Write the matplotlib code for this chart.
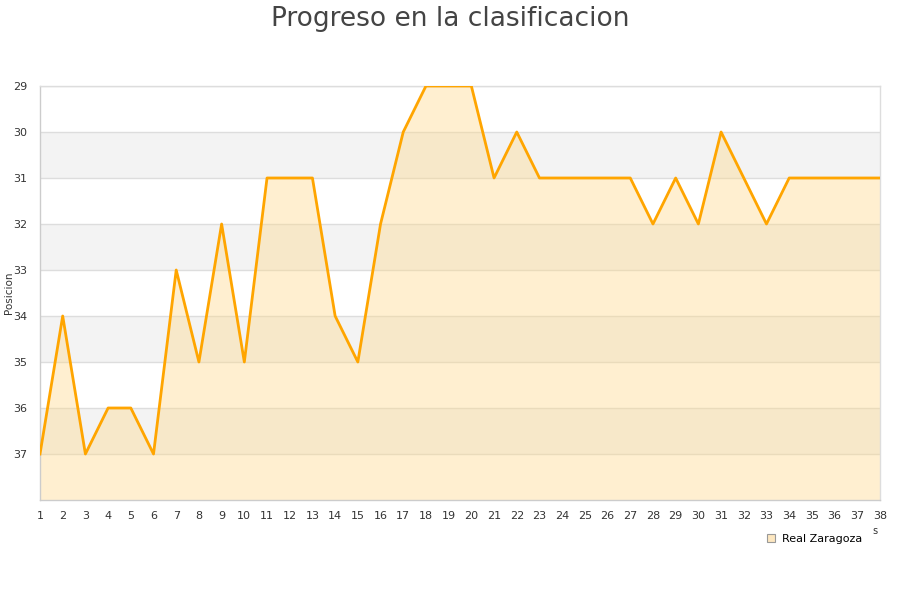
import matplotlib
matplotlib.use("Agg")
import matplotlib.pyplot as plt
from matplotlib.lines import Line2D

jornadas = list(range(1, 39))
posiciones = [37, 34, 37, 36, 36, 37, 33, 35, 32, 35,
              31, 31, 31, 34, 35, 32, 30, 29, 29, 29,
              31, 30, 31, 31, 31, 31, 31, 32, 31, 32,
              30, 31, 32, 31, 31, 31, 31, 31]
equipo = "Real Zaragoza"
yticks = [29, 30, 31, 32, 33, 34, 35, 36, 37]

fig = plt.figure(figsize=(9, 6), dpi=100)
ax = fig.add_axes([40/900, 1-500/600, 840/900, 414/600])
ax.set_xlim(1, 38)
ax.set_ylim(38, 29)

# alternating bands
for b in [30, 32, 34, 36]:
    ax.axhspan(b, b+1, color="#f3f3f3", zorder=0, lw=0)
for y in yticks:
    ax.axhline(y, color="#dddddd", lw=1, zorder=1)

ax.fill_between(jornadas, posiciones, 38, color="#ffd88a", alpha=0.4, lw=0, zorder=2)
ax.plot(jornadas, posiciones, color="#ffa500", lw=2, zorder=3)

ax.set_xticks(jornadas)
ax.set_yticks(yticks)
ax.tick_params(axis="both", length=0, labelsize=8, colors="#333333", pad=8)
ax.tick_params(axis="y", pad=9)
for s in ax.spines.values():
    s.set_color("#dddddd")
    s.set_linewidth(1)
ax.spines["left"].set_color("#cccccc")
ax.spines["bottom"].set_color("#cccccc")

fig.text(9/900, 1-293/600, "Posicion", rotation=90, ha="center", va="center",
         fontsize=7.5, color="#333333")
fig.text(0.5, 1-26/600, "Progreso en la clasificacion", ha="center", va="baseline",
         fontsize=19, color="#444444")
fig.text(875/900, 1-531/600, "s", ha="center", va="center", fontsize=7, color="#333333")

handle = Line2D([], [], marker="s", linestyle="none", markersize=6,
                markerfacecolor="#fde7c0", markeredgecolor="#999999", markeredgewidth=0.8)
fig.legend([handle], [equipo], loc="center", bbox_to_anchor=(814/900, 1-539/600),
           frameon=False, fontsize=8, handletextpad=0.5, handlelength=1)

fig.savefig("out.png", dpi=100)
